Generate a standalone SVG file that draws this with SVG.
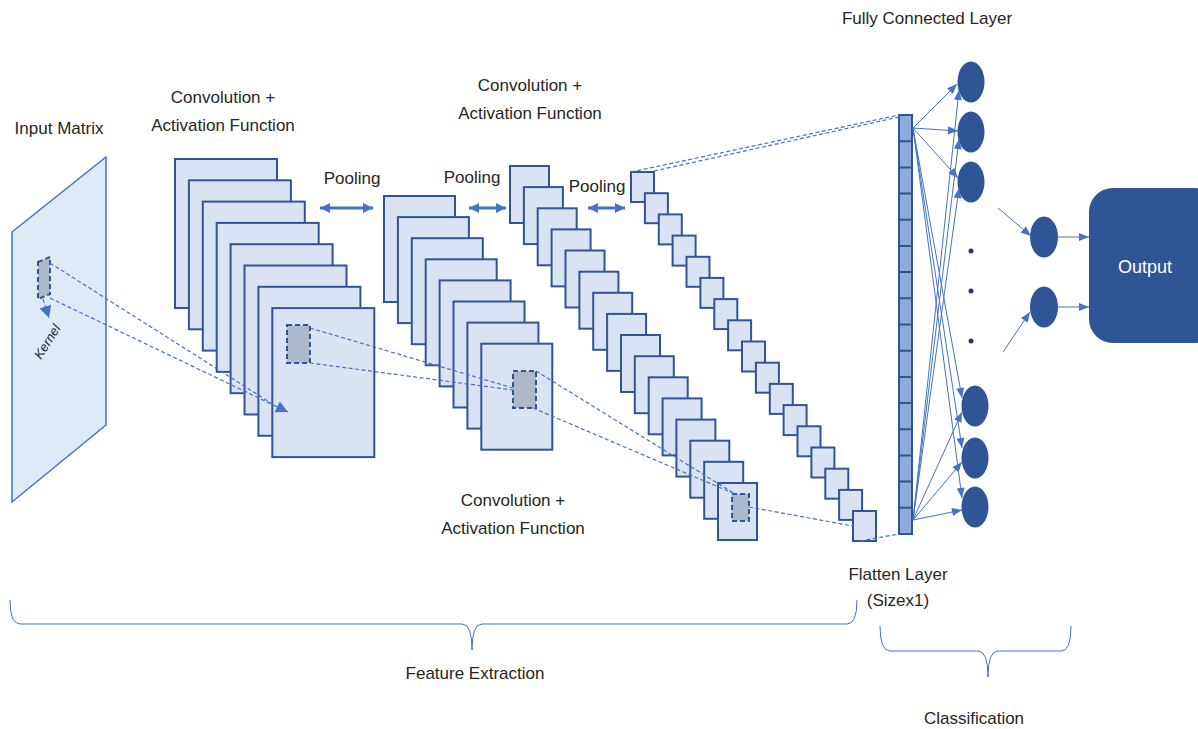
<svg xmlns="http://www.w3.org/2000/svg" width="1198" height="729" viewBox="0 0 1198 729">
  <style>
    .lbl { font-family: "Liberation Sans", Arial, sans-serif; font-size: 17px; fill: #262626; text-anchor: middle; }
    .map { fill: #dae3f3; stroke: #2f5597; stroke-width: 2; }
    .kern { fill: #adb9ca; stroke: #2f5597; stroke-width: 2; stroke-dasharray: 5 3; }
    .dash { fill: none; stroke: #4472c4; stroke-width: 1.2; stroke-dasharray: 4 2.5; }
    .fc { fill: none; stroke: #4472c4; stroke-width: 1; }
    .pool { fill: none; stroke: #4472c4; stroke-width: 3; }
    .node { fill: #2f5597; }
    .brace { fill: none; stroke: #4472c4; stroke-width: 1; }
  </style>
  <defs>
    <marker id="ah" viewBox="0 0 10 8" markerUnits="userSpaceOnUse" markerWidth="11" markerHeight="8" refX="10" refY="4" orient="auto">
      <path d="M0,0 L10,4 L0,8 z" fill="#4472c4"/>
    </marker>
    <marker id="pa" viewBox="0 0 10 10" markerUnits="userSpaceOnUse" markerWidth="10" markerHeight="11" refX="10" refY="5" orient="auto-start-reverse">
      <path d="M0,0 L10,5 L0,10 z" fill="#4472c4"/>
    </marker>
    <marker id="ka" viewBox="0 0 10 10" markerUnits="userSpaceOnUse" markerWidth="12" markerHeight="12" refX="10" refY="5" orient="auto">
      <path d="M0,0 L10,5 L0,10 z" fill="#4472c4"/>
    </marker>
  </defs>

  <!-- input matrix with kernel window -->
  <g id="input-matrix">
    <polygon points="12,232 106,157 106,425 12,502" fill="#deebf7" stroke="#4472c4" stroke-width="1.5"/>
    <polygon points="38,262 50,257 50,294 38,299" class="kern" stroke-width="1.5" stroke-dasharray="4 2"/>
    <text class="lbl" font-style="italic" transform="translate(41,360) rotate(-58)" text-anchor="start" style="font-size:13px;text-anchor:start">Kernel</text>
    <text class="lbl" x="59" y="134">Input Matrix</text>
  </g>

  <!-- first convolution feature maps -->
  <g id="conv1">
    <rect class="map" x="175" y="159" width="102" height="149"/>
    <rect class="map" x="188.9" y="180.3" width="102" height="149"/>
    <rect class="map" x="202.8" y="201.6" width="102" height="149"/>
    <rect class="map" x="216.7" y="222.9" width="102" height="149"/>
    <rect class="map" x="230.6" y="244.2" width="102" height="149"/>
    <rect class="map" x="244.5" y="265.5" width="102" height="149"/>
    <rect class="map" x="258.4" y="286.8" width="102" height="149"/>
    <rect class="map" x="272.3" y="308.1" width="102" height="149"/>
    <rect class="kern" x="287" y="325" width="23" height="38"/>
    <text class="lbl" x="223" y="103">Convolution +</text>
    <text class="lbl" x="223" y="131">Activation Function</text>
  </g>

  <!-- second convolution feature maps -->
  <g id="conv2">
    <rect class="map" x="384" y="196" width="71" height="106"/>
    <rect class="map" x="397.9" y="217.1" width="71" height="106"/>
    <rect class="map" x="411.8" y="238.2" width="71" height="106"/>
    <rect class="map" x="425.7" y="259.3" width="71" height="106"/>
    <rect class="map" x="439.6" y="280.4" width="71" height="106"/>
    <rect class="map" x="453.5" y="301.5" width="71" height="106"/>
    <rect class="map" x="467.4" y="322.6" width="71" height="106"/>
    <rect class="map" x="481.3" y="343.7" width="71" height="106"/>
    <rect class="kern" x="513" y="371" width="23" height="37"/>
    <text class="lbl" x="530" y="91">Convolution +</text>
    <text class="lbl" x="530" y="119">Activation Function</text>
  </g>

  <!-- third convolution feature maps -->
  <g id="conv3">
    <rect class="map" x="510" y="166" width="39" height="57"/>
    <rect class="map" x="523.9" y="187.1" width="39" height="57"/>
    <rect class="map" x="537.7" y="208.3" width="39" height="57"/>
    <rect class="map" x="551.6" y="229.4" width="39" height="57"/>
    <rect class="map" x="565.5" y="250.5" width="39" height="57"/>
    <rect class="map" x="579.4" y="271.7" width="39" height="57"/>
    <rect class="map" x="593.2" y="292.8" width="39" height="57"/>
    <rect class="map" x="607.1" y="313.9" width="39" height="57"/>
    <rect class="map" x="621" y="335" width="39" height="57"/>
    <rect class="map" x="634.8" y="356.2" width="39" height="57"/>
    <rect class="map" x="648.7" y="377.3" width="39" height="57"/>
    <rect class="map" x="662.6" y="398.4" width="39" height="57"/>
    <rect class="map" x="676.4" y="419.6" width="39" height="57"/>
    <rect class="map" x="690.3" y="440.7" width="39" height="57"/>
    <rect class="map" x="704.2" y="461.8" width="39" height="57"/>
    <rect class="map" x="718" y="483" width="39" height="57"/>
    <rect class="kern" x="732" y="494" width="17" height="27"/>
    <text class="lbl" x="513" y="506">Convolution +</text>
    <text class="lbl" x="513" y="534">Activation Function</text>
  </g>

  <!-- pooled maps -->
  <g id="pool3">
    <rect class="map" x="631" y="172" width="23" height="30"/>
    <rect class="map" x="644.9" y="193.2" width="23" height="30"/>
    <rect class="map" x="658.8" y="214.4" width="23" height="30"/>
    <rect class="map" x="672.6" y="235.6" width="23" height="30"/>
    <rect class="map" x="686.5" y="256.8" width="23" height="30"/>
    <rect class="map" x="700.4" y="277.9" width="23" height="30"/>
    <rect class="map" x="714.3" y="299.1" width="23" height="30"/>
    <rect class="map" x="728.1" y="320.3" width="23" height="30"/>
    <rect class="map" x="742" y="341.5" width="23" height="30"/>
    <rect class="map" x="755.9" y="362.7" width="23" height="30"/>
    <rect class="map" x="769.8" y="383.9" width="23" height="30"/>
    <rect class="map" x="783.6" y="405.1" width="23" height="30"/>
    <rect class="map" x="797.5" y="426.3" width="23" height="30"/>
    <rect class="map" x="811.4" y="447.5" width="23" height="30"/>
    <rect class="map" x="825.3" y="468.7" width="23" height="30"/>
    <rect class="map" x="839.1" y="489.9" width="23" height="30"/>
    <rect class="map" x="853" y="511" width="23" height="30"/>
  </g>

  <!-- flatten layer -->
  <g id="flatten">
    <rect x="899" y="115" width="13" height="419" fill="#8faadc" stroke="#2f5597" stroke-width="2"/>
    <path d="M899,141.2h13M899,167.4h13M899,193.6h13M899,219.8h13M899,245.9h13M899,272.1h13M899,298.3h13M899,324.5h13M899,350.7h13M899,376.9h13M899,403.1h13M899,429.3h13M899,455.4h13M899,481.6h13M899,507.8h13" stroke="#2f5597" stroke-width="2"/>
    <text class="lbl" x="898" y="580">Flatten Layer</text>
    <text class="lbl" x="898" y="606">(Sizex1)</text>
  </g>

  <!-- fully connected neurons -->
  <g id="fc-layer">
    <ellipse class="node" cx="971" cy="82" rx="13.5" ry="20.5"/>
    <ellipse class="node" cx="971" cy="132" rx="13.5" ry="20.5"/>
    <ellipse class="node" cx="971" cy="182" rx="13.5" ry="20.5"/>
    <circle cx="971" cy="251" r="2.5" fill="#1f3864"/>
    <circle cx="971" cy="291" r="2.5" fill="#1f3864"/>
    <circle cx="971" cy="341" r="2.5" fill="#1f3864"/>
    <ellipse class="node" cx="975" cy="406" rx="13.5" ry="20.5"/>
    <ellipse class="node" cx="975" cy="458" rx="13.5" ry="20.5"/>
    <ellipse class="node" cx="975" cy="507" rx="13.5" ry="20.5"/>
    <text class="lbl" x="927" y="24">Fully Connected Layer</text>
  </g>

  <g id="hidden">
    <ellipse class="node" cx="1044" cy="237" rx="14" ry="20.5"/>
    <ellipse class="node" cx="1044" cy="307" rx="14" ry="20.5"/>
  </g>

  <g id="output">
    <rect x="1089" y="188" width="130" height="155" rx="24" ry="24" fill="#2f5597"/>
    <text class="lbl" x="1145" y="273" style="fill:#ffffff;font-size:18px">Output</text>
  </g>

  <!-- pooling labels -->
  <g id="pooling-labels">
    <text class="lbl" x="352" y="184">Pooling</text>
    <text class="lbl" x="472" y="183">Pooling</text>
    <text class="lbl" x="597" y="192">Pooling</text>
  </g>

  <!-- connectors -->
  <g id="connectors">
    <!-- kernel projections -->
    <line x1="43" y1="299" x2="49" y2="318" class="dash" marker-end="url(#ka)"/>
    <line x1="50" y1="263" x2="282" y2="410" class="dash"/>
    <line x1="50" y1="298" x2="288" y2="412" class="dash" marker-end="url(#ka)"/>
    <line x1="310" y1="328" x2="513" y2="388" class="dash"/>
    <line x1="310" y1="363" x2="513" y2="390" class="dash"/>
    <line x1="536" y1="371" x2="735" y2="494" class="dash"/>
    <line x1="533" y1="408" x2="735" y2="494" class="dash"/>
    <line x1="749" y1="507" x2="853" y2="526" class="dash"/>
    <line x1="631" y1="172" x2="899" y2="115" class="dash"/>
    <line x1="654" y1="171" x2="899" y2="117" class="dash"/>
    <line x1="860" y1="541" x2="899" y2="534" class="dash"/>

    <!-- pooling steps -->
    <line x1="320" y1="208" x2="373" y2="208" class="pool" marker-start="url(#pa)" marker-end="url(#pa)"/>
    <line x1="469" y1="208" x2="506" y2="208" class="pool" marker-start="url(#pa)" marker-end="url(#pa)"/>
    <line x1="588" y1="208" x2="625" y2="208" class="pool" marker-start="url(#pa)" marker-end="url(#pa)"/>

    <!-- flatten to fully connected -->
    <line x1="913" y1="128" x2="957" y2="84" class="fc" marker-end="url(#ah)"/>
    <line x1="913" y1="128" x2="958" y2="131" class="fc" marker-end="url(#ah)"/>
    <line x1="913" y1="128" x2="958" y2="178" class="fc" marker-end="url(#ah)"/>
    <line x1="913" y1="128" x2="962" y2="398" class="fc" marker-end="url(#ah)"/>
    <line x1="913" y1="128" x2="962" y2="448" class="fc" marker-end="url(#ah)"/>
    <line x1="913" y1="128" x2="962" y2="498" class="fc" marker-end="url(#ah)"/>
    <line x1="913" y1="520" x2="959" y2="90" class="fc" marker-end="url(#ah)"/>
    <line x1="913" y1="520" x2="959" y2="139" class="fc" marker-end="url(#ah)"/>
    <line x1="913" y1="520" x2="959" y2="188" class="fc" marker-end="url(#ah)"/>
    <line x1="913" y1="520" x2="962" y2="412" class="fc" marker-end="url(#ah)"/>
    <line x1="913" y1="520" x2="962" y2="462" class="fc" marker-end="url(#ah)"/>
    <line x1="913" y1="520" x2="962" y2="510" class="fc" marker-end="url(#ah)"/>

    <!-- hidden to output -->
    <line x1="998" y1="208" x2="1031" y2="236" class="fc" marker-end="url(#ah)"/>
    <line x1="1003" y1="352" x2="1030" y2="312" class="fc" marker-end="url(#ah)"/>
    <line x1="1058" y1="237" x2="1089" y2="237" class="fc" marker-end="url(#ah)"/>
    <line x1="1058" y1="307" x2="1089" y2="307" class="fc" marker-end="url(#ah)"/>
  </g>

  <!-- stage braces -->
  <g id="feature-extraction">
    <path class="brace" d="M10,600 Q10,624 20,624 L462,624 Q472,624 472,650 Q472,624 482,624 L847,624 Q857,624 857,600"/>
    <text class="lbl" x="475" y="679">Feature Extraction</text>
  </g>
  <g id="classification">
    <path class="brace" d="M880,626 Q880,651 890,651 L978,651 Q988,651 988,677 Q988,651 998,651 L1061,651 Q1071,651 1071,626"/>
    <text class="lbl" x="974" y="724">Classification</text>
  </g>
</svg>
